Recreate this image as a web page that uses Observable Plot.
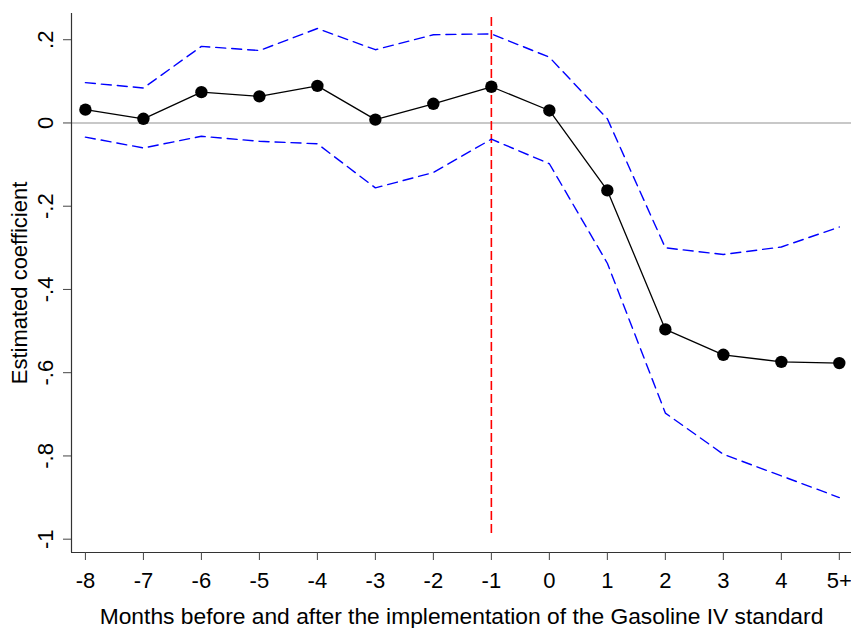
<!DOCTYPE html>
<html>
<head>
<meta charset="utf-8">
<script src="https://cdn.jsdelivr.net/npm/d3@7"></script>
<script src="https://cdn.jsdelivr.net/npm/@observablehq/plot@0.6"></script>
<style>
  html, body { margin: 0; padding: 0; background: #fff; }
  #chart svg { display: block; }
</style>
</head>
<body>
<div id="chart"></div>
<script>
// ---- data ----
const monthIndex  = [-8, -7, -6, -5, -4, -3, -2, -1, 0, 1, 2, 3, 4, 5];
const monthLabels = ["-8", "-7", "-6", "-5", "-4", "-3", "-2", "-1", "0", "1", "2", "3", "4", "5+"];
const estimate = [0.032, 0.010, 0.074, 0.064, 0.089, 0.008, 0.046, 0.087, 0.030, -0.162, -0.496, -0.557, -0.574, -0.577];
const upperCI  = [0.097, 0.084, 0.184, 0.174, 0.227, 0.176, 0.212, 0.214, 0.158, 0.010, -0.300, -0.316, -0.298, -0.250];
const lowerCI  = [-0.034, -0.060, -0.032, -0.044, -0.050, -0.156, -0.119, -0.039, -0.098, -0.337, -0.697, -0.796, -0.848, -0.900];
const yTicks      = [-1, -0.8, -0.6, -0.4, -0.2, 0, 0.2];
const yTickLabels = ["-1", "-.8", "-.6", "-.4", "-.2", "0", ".2"];
const eventMonth = [-1];
const xTitle = "Months before and after the implementation of the Gasoline IV standard";
const yTitle = "Estimated coefficient";

const rows = monthIndex.map((m, i) => ({m, est: estimate[i], hi: upperCI[i], lo: lowerCI[i]}));
const xDomain = [-8.24, 5.21];
const yDomain = [-1.032, 0.263];
const font = "'Liberation Sans', Arial, Helvetica, sans-serif";

const chart = Plot.plot({
  width: 851,
  height: 628,
  marginLeft: 71,
  marginRight: 0,
  marginTop: 13,
  marginBottom: 76,
  style: {fontFamily: font, background: "#fff", color: "#000"},
  x: {type: "linear", domain: xDomain, axis: null},
  y: {type: "linear", domain: yDomain, axis: null},
  marks: [
    // zero reference line
    Plot.ruleY([0], {stroke: "#c8c8c8", strokeWidth: 2}),
    // event line
    Plot.ruleX(eventMonth, {stroke: "#ff0000", strokeWidth: 1.6, strokeDasharray: "9,4", insetTop: 4, insetBottom: 15}),
    // confidence bounds
    Plot.line(rows, {x: "m", y: "hi", stroke: "#0000ff", strokeWidth: 1.4, strokeDasharray: "10,6"}),
    Plot.line(rows, {x: "m", y: "lo", stroke: "#0000ff", strokeWidth: 1.4, strokeDasharray: "10,6"}),
    // estimates
    Plot.line(rows, {x: "m", y: "est", stroke: "#000", strokeWidth: 1.3}),
    Plot.dot(rows, {x: "m", y: "est", r: 6.2, fill: "#000", stroke: null}),
    // axes lines
    Plot.ruleX([xDomain[0]], {stroke: "#333", strokeWidth: 1.2}),
    Plot.ruleY([yDomain[0]], {stroke: "#333", strokeWidth: 1.2}),
    // y axis ticks + rotated labels
    Plot.axisY({ticks: yTicks, tickSize: 8, tickFormat: () => "", stroke: "#444", label: null}),
    Plot.text(yTicks, {y: d => d, text: (d, i) => yTickLabels[i], frameAnchor: "left", dx: -26, rotate: -90,
      textAnchor: "middle", lineAnchor: "middle", fontSize: 22, fill: "#000"}),
    // x axis
    Plot.axisX({ticks: monthIndex, tickSize: 8, tickPadding: 12, tickFormat: (d, i) => monthLabels[i],
      fontSize: 22, stroke: "#444", fill: "#000", label: null}),
    // titles
    Plot.text([xTitle], {text: d => d, frameAnchor: "bottom", dy: 64, fontSize: 22.8, textAnchor: "middle", lineAnchor: "middle", fill: "#000"}),
    Plot.text([yTitle], {text: d => d, frameAnchor: "left", dx: -52, rotate: -90, fontSize: 22, textAnchor: "middle", lineAnchor: "middle", fill: "#000"})
  ]
});
document.getElementById("chart").append(chart);
</script>
</body>
</html>
